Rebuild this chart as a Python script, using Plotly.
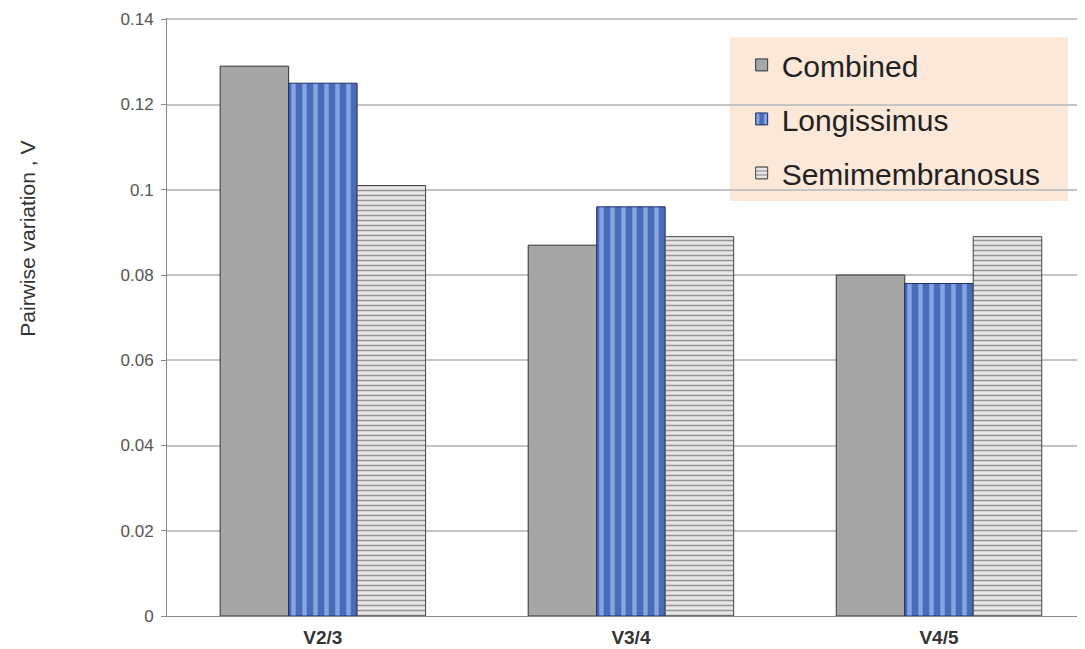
import plotly.graph_objects as go

categories = ["V2/3", "V3/4", "V4/5"]
combined = [0.129, 0.087, 0.080]
longissimus = [0.125, 0.096, 0.078]
semimembranosus = [0.101, 0.089, 0.089]
y_ticks = [0, 0.02, 0.04, 0.06, 0.08, 0.1, 0.12, 0.14]
y_tick_labels = ["0", "0.02", "0.04", "0.06", "0.08", "0.1", "0.12", "0.14"]
y_title = "Pairwise variation , V"

FONT = "Liberation Sans, Arial, sans-serif"

fig = go.Figure()
fig.add_trace(go.Bar(
    name="Combined", x=categories, y=combined, legendgroup="a",
    marker=dict(color="#a6a6a6", line=dict(color="#333333", width=1)),
))
fig.add_trace(go.Bar(
    name="Longissimus", x=categories, y=longissimus, legendgroup="b",
    marker=dict(color="#5577c4", line=dict(color="#1f2f66", width=1),
                pattern=dict(shape="|", fgcolor="#86a6e3", bgcolor="#4a6bb8",
                             size=11, solidity=0.4, fillmode="replace")),
))
fig.add_trace(go.Bar(
    name="Semimembranosus", x=categories, y=semimembranosus, legendgroup="c",
    marker=dict(color="#d6d6d6", line=dict(color="#444444", width=1),
                pattern=dict(shape="-", fgcolor="#959595", bgcolor="#e6e6e6",
                             size=5, solidity=0.3, fillmode="replace")),
))

fig.update_layout(
    width=1085, height=649,
    margin=dict(l=159, r=8, t=10, b=41, autoexpand=False),
    plot_bgcolor="white", paper_bgcolor="white",
    barmode="group", bargap=0.333, bargroupgap=0,
    font=dict(family=FONT, color="#444444"),
    legend=dict(
        x=0.626, y=0.965, xanchor="left", yanchor="top",
        bgcolor="rgba(0,0,0,0)", borderwidth=0,
        font=dict(size=30, color="#222222", family=FONT),
        traceorder="grouped", tracegroupgap=12,
    ),
    showlegend=True,
    shapes=[dict(
        type="rect", xref="paper", yref="paper",
        x0=0.613, x1=0.9815, y0=0.694, y1=0.968,
        fillcolor="#fce8d8", line=dict(width=0), layer="below",
    )],
    annotations=[dict(
        text=y_title, textangle=-90, x=-0.1514, y=0.631,
        xref="paper", yref="paper", xanchor="center", yanchor="middle",
        showarrow=False, font=dict(size=21, color="#333333", family=FONT),
    )],
)
fig.update_xaxes(
    range=[-0.506, 2.474], showline=True, linecolor="#888888", linewidth=1,
    ticks="", ticklabelstandoff=4, automargin=False,
    tickfont=dict(size=19, color="#333333", family=FONT, weight="bold"),
    showgrid=False,
)
fig.update_yaxes(
    range=[0, 0.1403], tickvals=y_ticks, ticktext=y_tick_labels,
    showgrid=True, gridcolor="#c4c4c4", gridwidth=1.5,
    showline=True, linecolor="#888888", linewidth=1,
    ticks="outside", ticklen=5, tickcolor="#888888", ticklabelstandoff=4,
    ticklabeloverflow="allow", automargin=False,
    tickfont=dict(size=17, color="#555555"),
    zeroline=False,
)
fig.write_html("out.html")
